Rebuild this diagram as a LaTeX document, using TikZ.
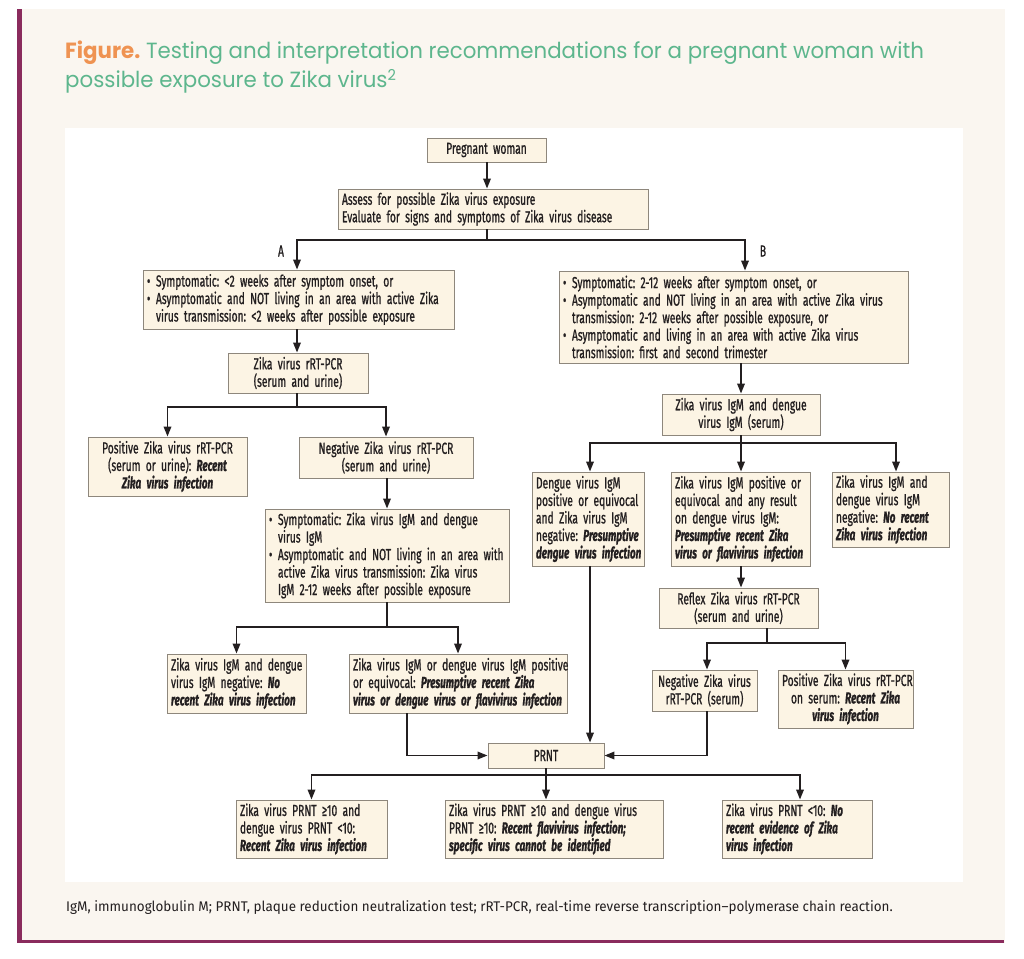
\documentclass[tikz,border=0pt]{standalone}
\usepackage{fontspec}
\setmainfont{Fira Sans}
\newfontfamily\dfont[FakeStretch=0.64,FakeBold=0.9,WordSpace=0.7,BoldItalicFeatures={FakeStretch=0.62}]{Fira Sans}
\newfontfamily\tfont[FakeStretch=0.97]{Poppins}
\newfontfamily\cfont[FakeStretch=0.96]{Fira Sans}
\usetikzlibrary{arrows.meta,calc}
\definecolor{pagebg}{HTML}{FAF6F0}
\definecolor{maroonc}{HTML}{8A2B5D}
\definecolor{boxfill}{HTML}{FCF4E4}
\definecolor{boxline}{HTML}{8E877C}
\definecolor{linec}{HTML}{231F20}
\definecolor{tgreen}{HTML}{5DB68D}
\definecolor{torange}{HTML}{EF9352}
\newcommand\bi[1]{\textbf{\textit{#1}}}
\newcommand\bul{\makebox[9pt][l]{\textbullet}}
\newcommand\ind{\hspace*{9pt}}
\newcommand\lf[1]{\mbox{#1}}
\begin{document}
\frenchspacing
\begin{tikzpicture}[x=1pt,y=-1pt,
  bx/.style={draw=boxline, fill=boxfill, line width=0.9pt, inner xsep=4pt, inner ysep=2pt,
    text=linec, font=\dfont\fontsize{16}{17.5}\selectfont},
  bxl/.style={bx, align=left},
  bxc/.style={bx, align=center},
  ln/.style={draw=linec, line width=1.8pt},
  arr/.style={ln, -{Triangle[length=10pt,width=7.5pt]}},
  lab/.style={font=\dfont\fontsize{16}{17.5}\selectfont, text=linec, inner sep=0pt}]
\useasboundingbox (0,0) rectangle (1024,958);
\fill[white] (0,0) rectangle (1024,958);
\fill[pagebg] (17,9) rectangle (1005,943);
\fill[maroonc] (17,9) rectangle (22,943);
\draw[maroonc, line width=2.5pt] (17,941.5) -- (1004,941.5);
\fill[white] (65,128) rectangle (963,882);
% title
\node[anchor=base west, inner sep=0pt, font=\tfont\fontsize{22}{28}\selectfont] (t1) at (65,59)
  {{\color{torange}\bfseries Figure.} \color{tgreen}Testing and interpretation recommendations for a pregnant woman with};
\node[anchor=base west, inner sep=0pt, font=\tfont\fontsize{22}{28}\selectfont, text=tgreen] (t2) at (65,87)
  {possible exposure to Zika virus\raisebox{6pt}{\fontsize{15}{15}\selectfont 2}};
% caption
\node[anchor=base west, inner sep=0pt, font=\cfont\fontsize{14}{16}\selectfont, text=linec] (cap) at (66,911)
  {IgM, immunoglobulin M; PRNT, plaque reduction neutralization test; rRT-PCR, real-time reverse transcription–polymerase chain reaction.};
% boxes
\node[bxc, text width=111pt, minimum height=24pt] (preg) at (486.5,150) {\lf{Pregnant woman}};
\node[bxl, text width=302pt, minimum height=40pt] (assess) at (493,209)
  {\lf{Assess for possible Zika virus exposure}\\\lf{Evaluate for signs and symptoms of Zika virus disease}};
\node[bxl, text width=303pt, minimum height=59pt] (A1) at (298.5,299.5)
  {\lf{\bul Symptomatic: <2 weeks after symptom onset, or}\\\lf{\bul Asymptomatic and NOT living in an area with active Zika}\\\lf{\ind virus transmission: <2 weeks after possible exposure}};
\node[bxl, text width=341pt, minimum height=92pt] (B1) at (733.5,317)
  {\lf{\bul Symptomatic: 2-12 weeks after symptom onset, or}\\\lf{\bul Asymptomatic and NOT living in an area with active Zika virus}\\\lf{\ind transmission: 2-12 weeks after possible exposure, or}\\\lf{\bul Asymptomatic and living in an area with active Zika virus}\\\lf{\ind transmission: first and second trimester}};
\node[bxc, text width=132pt, minimum height=40pt] (pcr) at (298,373) {\lf{Zika virus rRT-PCR}\\\lf{(serum and urine)}};
\node[bxc, text width=151pt, minimum height=59pt] (ppos) at (167.5,466.5)
  {\lf{Positive Zika virus rRT-PCR}\\\lf{(serum or urine): \bi{Recent}}\\\lf{\bi{Zika virus infection}}};
\node[bxc, text width=166pt, minimum height=41pt] (pneg) at (386,457.5) {\lf{Negative Zika virus rRT-PCR}\\\lf{(serum and urine)}};
\node[bxl, text width=236pt, minimum height=93pt] (igmA) at (387,555.5)
  {\lf{\bul Symptomatic: Zika virus IgM and dengue}\\\lf{\ind virus IgM}\\\lf{\bul Asymptomatic and NOT living in an area with}\\\lf{\ind active Zika virus transmission: Zika virus}\\\lf{\ind IgM 2-12 weeks after possible exposure}};
\node[bxl, text width=131pt, minimum height=59pt] (resL) at (236.5,683.5)
  {\lf{Zika virus IgM and dengue}\\\lf{virus IgM negative: \bi{No}}\\\lf{\bi{recent Zika virus infection}}};
\node[bxl, text width=210pt, minimum height=59pt] (resR) at (458,683.5)
  {\lf{Zika virus IgM or dengue virus IgM positive}\\\lf{or equivocal: \bi{Presumptive recent Zika}}\\\lf{\bi{virus or dengue virus or flavivirus infection}}};
\node[bxc, text width=150pt, minimum height=41pt] (igm) at (741,414.5) {\lf{Zika virus IgM and dengue}\\\lf{virus IgM (serum)}};
\node[bxl, text width=104pt, minimum height=94pt] (dengue) at (588,519)
  {\lf{Dengue virus IgM}\\\lf{positive or equivocal}\\\lf{and Zika virus IgM}\\\lf{negative: \bi{Presumptive}}\\\lf{\bi{dengue virus infection}}};
\node[bxl, text width=131pt, minimum height=94pt] (zpos) at (740.5,519)
  {\lf{Zika virus IgM positive or}\\\lf{equivocal and any result}\\\lf{on dengue virus IgM:}\\\lf{\bi{Presumptive recent Zika}}\\\lf{\bi{virus or flavivirus infection}}};
\node[bxl, text width=109pt, minimum height=75pt] (zneg) at (890.5,509.5)
  {\lf{Zika virus IgM and}\\\lf{dengue virus IgM}\\\lf{negative: \bi{No recent}}\\\lf{\bi{Zika virus infection}}};
\node[bxc, text width=151pt, minimum height=40pt] (reflex) at (738.5,608) {\lf{Reflex Zika virus rRT-PCR}\\\lf{(serum and urine)}};
\node[bxc, text width=97pt, minimum height=41pt] (negz) at (704.5,690.5) {\lf{Negative Zika virus}\\\lf{rRT-PCR (serum)}};
\node[bxc, text width=127pt, minimum height=58pt] (posz) at (845.5,699)
  {\lf{Positive Zika virus rRT-PCR}\\\lf{on serum: \bi{Recent Zika}}\\\lf{\bi{virus infection}}};
\node[bxc, text width=108pt, minimum height=25pt] (prnt) at (546,755.5) {\lf{PRNT}};
\node[bxl, text width=143pt, minimum height=58pt] (b1) at (311.5,829)
  {\lf{Zika virus PRNT ≥10 and}\\\lf{dengue virus PRNT <10:}\\\lf{\bi{Recent Zika virus infection}}};
\node[bxl, text width=210pt, minimum height=58pt] (b2) at (554,829)
  {\lf{Zika virus PRNT ≥10 and dengue virus}\\\lf{PRNT ≥10: \bi{Recent flavivirus infection;}}\\\lf{\bi{specific virus cannot be identified}}};
\node[bxl, text width=142pt, minimum height=58pt] (b3) at (797,829)
  {\lf{Zika virus PRNT <10: \bi{No}}\\\lf{\bi{recent evidence of Zika}}\\\lf{\bi{virus infection}}};
% labels
\node[lab] (labA) at (281,251) {A};
\node[lab] (labB) at (763,251) {B};
% junctions
\coordinate (jA) at (487,240);
\coordinate (jP) at (297,407);
\coordinate (jG) at (387,627);
\coordinate (jI) at (741,443);
\coordinate (jR) at (767,643);
\coordinate (jN) at (546,775);
% connectors
\draw[arr] (preg.south -| jA) -- (assess.north -| jA);
\draw[ln] (assess.south -| jA) -- (jA);
\draw[arr] (jA) -| ([xshift=-1.5pt]A1.north);
\draw[arr] (jA) -| ([xshift=11.5pt]B1.north);
\draw[arr] (A1.south -| jP) -- (pcr.north -| jP);
\draw[ln] (pcr.south -| jP) -- (jP);
\draw[arr] (jP) -| (ppos.north);
\draw[arr] (jP) -| (pneg.north);
\draw[arr] (pneg.south -| igmA.north) -- (igmA.north);
\draw[ln] (igmA.south) -- (jG);
\draw[arr] (jG) -| (resL.north);
\draw[arr] (jG) -| (resR.north);
\draw[arr] ([xshift=-51pt]resR.south) |- (prnt.west);
\draw[arr] (B1.south -| igm.north) -- (igm.north);
\draw[ln] (igm.south) -- (jI);
\draw[arr] (jI) -| ([xshift=2pt]dengue.north);
\draw[arr] (jI) -- (jI |- zpos.north);
\draw[arr] (jI) -| ([xshift=5.5pt]zneg.north);
\draw[arr] (zpos.south -| jI) -- (reflex.north -| jI);
\draw[ln] (reflex.south -| jR) -- (jR);
\draw[arr] (jR) -| ([xshift=2.5pt]negz.north);
\draw[arr] (jR) -| (posz.north);
\draw[arr] ([xshift=2.5pt]negz.south) |- (prnt.east);
\draw[arr] ([xshift=2pt]dengue.south) -- ([xshift=2pt]dengue.south |- prnt.north);
\draw[ln] (prnt.south) -- (jN);
\draw[arr] (jN) -| (b1.north);
\draw[arr] (jN) -- (jN |- b2.north);
\draw[arr] (jN) -| ([xshift=3pt]b3.north);
\end{tikzpicture}
\end{document}
